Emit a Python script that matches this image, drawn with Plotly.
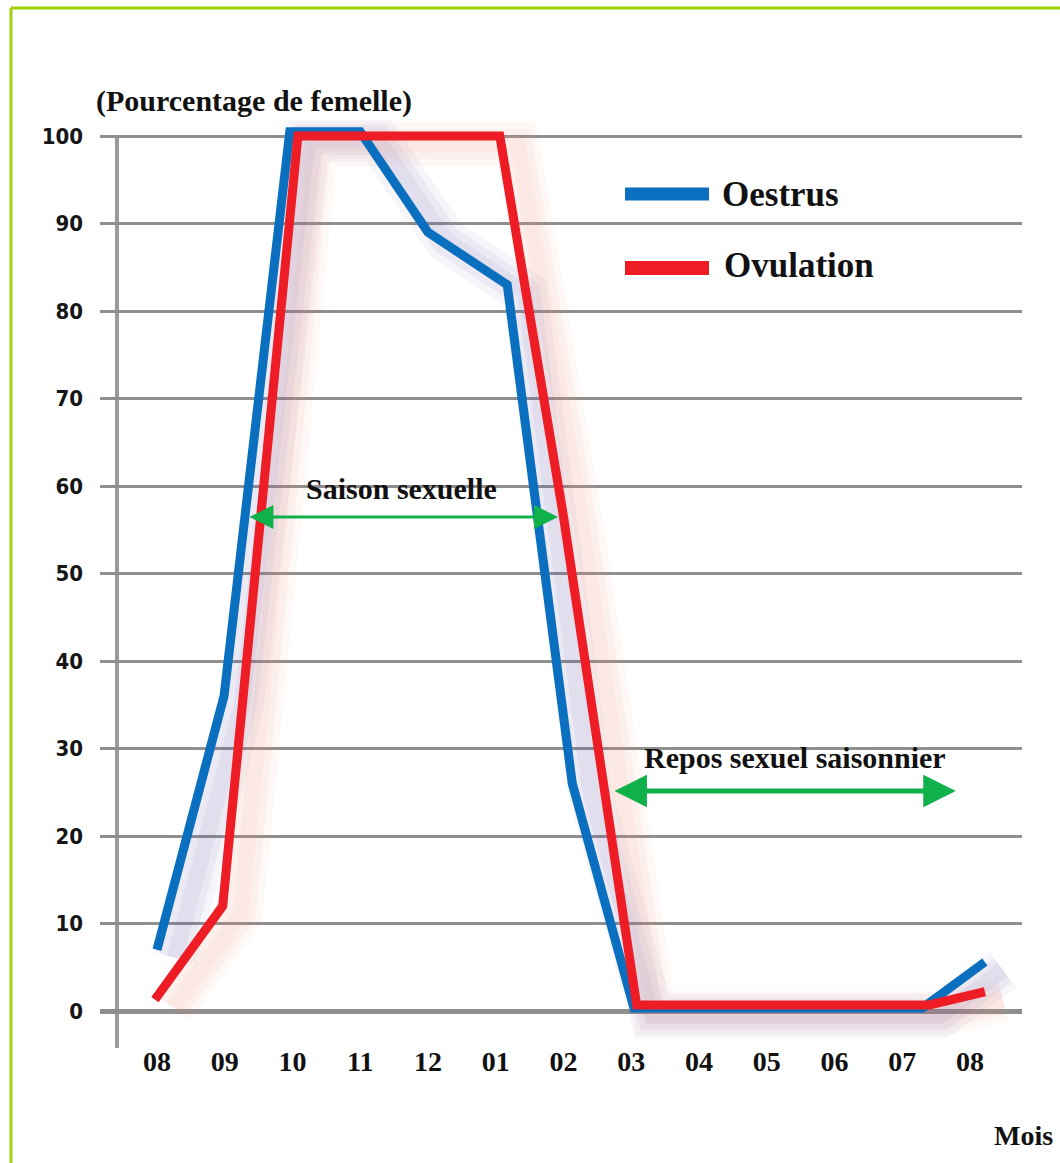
import plotly.graph_objects as go

# ---------------- data ----------------
month_labels = ["08", "09", "10", "11", "12", "01", "02", "03", "04", "05", "06", "07", "08"]
month_pos = list(range(len(month_labels)))
y_ticks = [0, 10, 20, 30, 40, 50, 60, 70, 80, 90, 100]

oestrus_x = [0.0, 0.99, 1.96, 3.0, 4.0, 5.17, 6.13, 7.04, 11.3, 12.22]
oestrus_y = [7.0, 36.0, 100.5, 100.5, 89.0, 83.0, 26.0, 0.35, 0.35, 5.6]

ovulation_x = [-0.03, 0.97, 2.08, 5.06, 5.99, 7.08, 11.4, 12.22]
ovulation_y = [1.3, 12.0, 100.0, 100.0, 57.0, 0.7, 0.7, 2.2]

# annotation arrows (month index / percent)
saison_arrow = dict(x0=1.343, x1=5.919, y=56.46)
repos_arrow = dict(x0=6.73, x1=11.79, y=25.14)

# ---------------- layout helpers ----------------
W, H = 1060, 1163
L, R, T, B = 100, 38, 120, 113
PW, PH = W - L - R, H - T - B
XR = [-0.841, 12.768]
YR = [-4.457, 101.83]


def px_x(p):
    return (p - L) / PW


def px_y(p):
    return (H - B - p) / PH


BLUE = "#0a6fbf"
RED = "#ee1c25"
GREEN = "#10b04a"
GRID = "#8f8f8f"
SERIF = "Liberation Serif, Times New Roman, serif"
NARROW = "Liberation Sans Narrow, DejaVu Sans Condensed, Arial Narrow, sans-serif"

# shadow shift (px)
SDX, SDY = 18, 8
dx = SDX / 67.75
dy = SDY / 8.75

fig = go.Figure()

# soft shadows (on shifted overlay axes x2/y2), layered to imitate blur
for w, a in [(44, 0.06), (30, 0.07), (16, 0.07)]:
    fig.add_trace(go.Scatter(x=oestrus_x, y=oestrus_y, mode="lines", xaxis="x2", yaxis="y2",
                             line=dict(color=f"rgba(95,85,170,{a})", width=w),
                             hoverinfo="skip", showlegend=False))
    fig.add_trace(go.Scatter(x=ovulation_x, y=ovulation_y, mode="lines", xaxis="x2", yaxis="y2",
                             line=dict(color=f"rgba(235,140,110,{a})", width=w),
                             hoverinfo="skip", showlegend=False))

# real lines (on overlay axes x3/y3, same ranges as main)
fig.add_trace(go.Scatter(x=oestrus_x, y=oestrus_y, mode="lines", xaxis="x3", yaxis="y3",
                         name="Oestrus", line=dict(color=BLUE, width=9), showlegend=False))
fig.add_trace(go.Scatter(x=ovulation_x, y=ovulation_y, mode="lines", xaxis="x3", yaxis="y3",
                         name="Ovulation", line=dict(color=RED, width=9), showlegend=False))

shapes = []
# y axis vertical line
shapes.append(dict(type="line", xref="paper", yref="paper",
                   x0=px_x(117), x1=px_x(117), y0=px_y(137), y1=px_y(1048),
                   line=dict(color="#9a9a9a", width=4), layer="between"))
# legend samples
shapes.append(dict(type="line", xref="paper", yref="paper",
                   x0=px_x(625), x1=px_x(709), y0=px_y(194), y1=px_y(194),
                   line=dict(color=BLUE, width=13)))
shapes.append(dict(type="line", xref="paper", yref="paper",
                   x0=px_x(625), x1=px_x(709), y0=px_y(268), y1=px_y(268),
                   line=dict(color=RED, width=14)))
# green frame (left + top)
shapes.append(dict(type="line", xref="paper", yref="paper",
                   x0=px_x(11), x1=px_x(11), y0=px_y(8), y1=px_y(1163),
                   line=dict(color="#a2d20e", width=3)))
shapes.append(dict(type="line", xref="paper", yref="paper",
                   x0=px_x(11), x1=px_x(1060), y0=px_y(8), y1=px_y(8),
                   line=dict(color="#a2d20e", width=3)))

annotations = [
    dict(text="(Pourcentage de femelle)", xref="paper", yref="paper",
         x=px_x(94), y=px_y(101), xanchor="left", yanchor="middle", showarrow=False,
         font=dict(family=SERIF, size=30, color="#111", weight="bold")),
    dict(text="Oestrus", xref="paper", yref="paper",
         x=px_x(720), y=px_y(194), xanchor="left", yanchor="middle", showarrow=False,
         font=dict(family=SERIF, size=35, color="#111", weight="bold")),
    dict(text="Ovulation", xref="paper", yref="paper",
         x=px_x(722), y=px_y(265), xanchor="left", yanchor="middle", showarrow=False,
         font=dict(family=SERIF, size=35, color="#111", weight="bold")),
    dict(text="Saison sexuelle", xref="paper", yref="paper",
         x=px_x(401), y=px_y(489), xanchor="center", yanchor="middle", showarrow=False,
         font=dict(family=SERIF, size=30, color="#111", weight="bold")),
    dict(text="Repos sexuel saisonnier", xref="paper", yref="paper",
         x=px_x(795), y=px_y(757), xanchor="center", yanchor="middle", showarrow=False,
         font=dict(family=SERIF, size=30, color="#111", weight="bold")),
    dict(text="Mois", xref="paper", yref="paper",
         x=px_x(1023), y=px_y(1135), xanchor="center", yanchor="middle", showarrow=False,
         font=dict(family=SERIF, size=28, color="#111", weight="bold")),
    # arrows
    dict(text="", x=saison_arrow["x1"], y=saison_arrow["y"], ax=saison_arrow["x0"], ay=saison_arrow["y"],
         xref="x", yref="y", axref="x", ayref="y", showarrow=True, arrowside="end+start",
         arrowhead=2, startarrowhead=2, arrowsize=1.6, startarrowsize=1.6, arrowwidth=3,
         arrowcolor=GREEN, standoff=0, startstandoff=0),
    dict(text="", x=repos_arrow["x1"], y=repos_arrow["y"], ax=repos_arrow["x0"], ay=repos_arrow["y"],
         xref="x", yref="y", axref="x", ayref="y", showarrow=True, arrowside="end+start",
         arrowhead=2, startarrowhead=2, arrowsize=1.3, startarrowsize=1.3, arrowwidth=5,
         arrowcolor=GREEN, standoff=0, startstandoff=0),
]

fig.update_layout(
    width=W, height=H, autosize=False,
    margin=dict(l=L, r=R, t=T, b=B, pad=0),
    paper_bgcolor="white", plot_bgcolor="white",
    showlegend=False,
    xaxis=dict(range=XR, tickmode="array", tickvals=month_pos, ticktext=month_labels,
               showgrid=False, zeroline=False, showline=False, ticks="",
               tickfont=dict(family=SERIF, size=28, color="#111", weight="bold"),
               ticklabelstandoff=-8, fixedrange=True),
    yaxis=dict(range=YR, tickmode="array", tickvals=y_ticks,
               showgrid=True, gridcolor=GRID, gridwidth=3,
               zeroline=True, zerolinecolor=GRID, zerolinewidth=5,
               showline=False, ticks="", ticklabelstandoff=16,
               tickfont=dict(family=NARROW, size=22, color="#151515", weight="bold"),
               fixedrange=True),
    xaxis2=dict(range=[XR[0] - dx, XR[1] - dx], overlaying="x", visible=False, fixedrange=True),
    yaxis2=dict(range=[YR[0] + dy, YR[1] + dy], overlaying="y", visible=False, fixedrange=True),
    xaxis3=dict(range=XR, overlaying="x", visible=False, fixedrange=True),
    yaxis3=dict(range=YR, overlaying="y", visible=False, fixedrange=True),
    shapes=shapes,
    annotations=annotations,
)

fig.write_html("out.html")
